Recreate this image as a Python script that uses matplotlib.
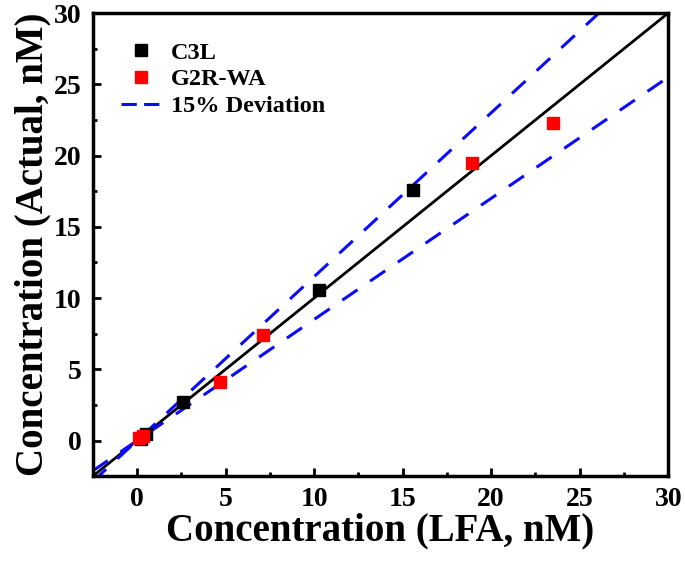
import numpy as np
import matplotlib.pyplot as plt
from matplotlib.lines import Line2D
from matplotlib.ticker import MultipleLocator

plt.rcParams['font.family'] = ['Liberation Serif', 'DejaVu Serif']
plt.rcParams['font.weight'] = 'bold'

# data
c3l_x = [0.2, 0.5, 2.6, 10.3, 15.6]
c3l_y = [0.1, 0.45, 2.7, 10.6, 17.6]
g2r_x = [0.1, 0.35, 4.7, 7.1, 18.9, 23.5]
g2r_y = [0.2, 0.3, 4.1, 7.4, 19.5, 22.3]
dev = 0.15

blue = '#0a0aff'

fig = plt.figure(figsize=(6.85, 5.61), dpi=100)
ax = fig.add_axes([0.1353, 0.151, 0.8403, 0.8258])

xx = np.array([-2.5, 30])
ax.plot(xx, xx, color='black', lw=2, zorder=2)
ax.plot(xx, xx * (1 + dev), color=blue, lw=2.2, ls=(0, (6, 5)), zorder=2)
ax.plot(xx, xx * (1 - dev), color=blue, lw=2.2, ls=(0, (6, 5)), zorder=2)

p1, = ax.plot(c3l_x, c3l_y, 's', color='black', ms=9, zorder=3)
p2, = ax.plot(g2r_x, g2r_y, 's', color='#ff0000', ms=9, zorder=4)

ax.set_xlim(-2.5, 30)
ax.set_ylim(-2.5, 30)
ax.xaxis.set_major_locator(MultipleLocator(5))
ax.yaxis.set_major_locator(MultipleLocator(5))
ax.xaxis.set_minor_locator(MultipleLocator(2.5))
ax.yaxis.set_minor_locator(MultipleLocator(2.5))
ax.tick_params(which='major', direction='in', length=6, width=2, labelsize=20, pad=8)
ax.tick_params(which='minor', direction='in', length=3, width=2)
for s in ax.spines.values():
    s.set_linewidth(2.5)

ax.set_xlabel('Concentration (LFA, nM)', fontsize=28, fontweight='bold', labelpad=0)
ax.set_ylabel('Concentration (Actual, nM)', fontsize=28, fontweight='bold', labelpad=2)

# legend dash drawn shorter so two dashes show, as in the original
dash_handle = Line2D([], [], color=blue, lw=2.2, ls=(0, (5, 2.4)))
ax.legend([p1, p2, dash_handle], ['C3L', 'G2R-WA', '15% Deviation'], loc='upper left',
          bbox_to_anchor=(0.02, 0.975), frameon=False,
          prop={'weight': 'bold', 'size': 17.5},
          handlelength=1.6, handletextpad=0.45, labelspacing=0.2, borderpad=0.2)

fig.savefig('out.png', dpi=100)
